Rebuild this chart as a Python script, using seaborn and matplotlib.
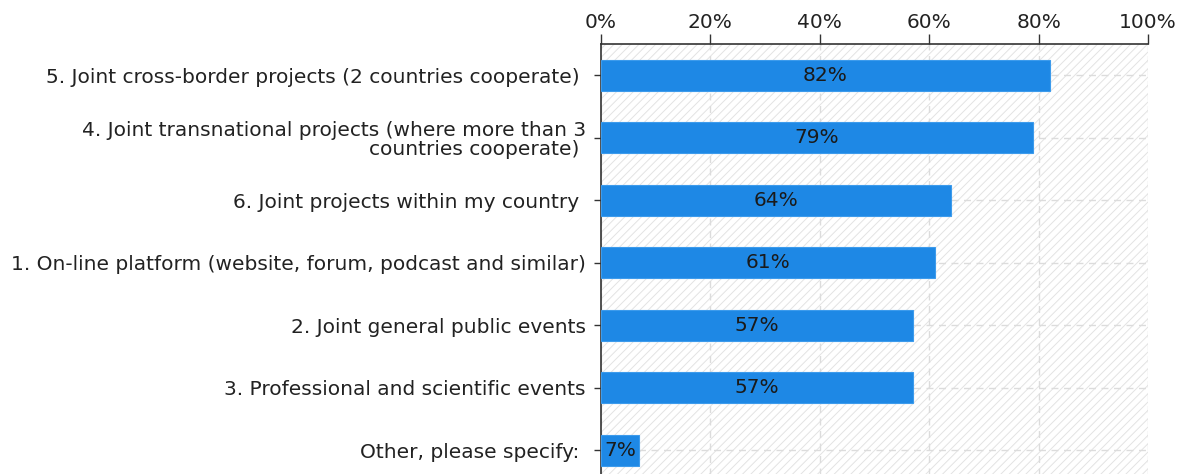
import matplotlib
matplotlib.use("Agg")
import matplotlib.pyplot as plt
import seaborn as sns
import pandas as pd
from matplotlib.patches import Rectangle

categories = [
    "5. Joint cross-border projects (2 countries cooperate) ",
    "4. Joint transnational projects (where more than 3\ncountries cooperate) ",
    "6. Joint projects within my country ",
    "1. On-line platform (website, forum, podcast and similar)",
    "2. Joint general public events",
    "3. Professional and scientific events",
    "Other, please specify: ",
]
values = [82, 79, 64, 61, 57, 57, 7]
x_ticks = [0, 20, 40, 60, 80, 100]

df = pd.DataFrame({"category": categories, "value": values})

sns.set_theme(style="white")
plt.rcParams["font.family"] = ["DejaVu Sans"]
plt.rcParams["hatch.linewidth"] = 0.7

FS = 14.5

fig = plt.figure(figsize=(11.77, 4.74), dpi=100)
ax = fig.add_axes([601 / 1177, -0.012, (1148 - 601) / 1177, (474 - 44) / 474 + 0.012])

# hatched plot-area background
ax.add_patch(Rectangle((0, 0), 1, 1, transform=ax.transAxes, facecolor="#ffffff",
                       edgecolor="#e3e3e3", linewidth=0, hatch="////", zorder=0))

sns.barplot(data=df, x="value", y="category", orient="h", color="#1e88e5",
            width=0.5, edgecolor="#3d9bec", linewidth=0.8, saturation=1,
            ax=ax, zorder=3)

for i, v in enumerate(values):
    ax.text(v / 2, i, f"{v}%", ha="center", va="center", fontsize=FS,
            color="#1a1a1a", zorder=4)

ax.set_xlim(0, 100)
ax.set_ylim(6.47, -0.5)
ax.set_xticks(x_ticks)
ax.set_xticklabels([f"{t}%" for t in x_ticks])
ax.xaxis.tick_top()
ax.set_xlabel("")
ax.set_ylabel("")

ax.grid(True, axis="both", linestyle=(0, (5, 4)), color="#dcdcdc", linewidth=1, zorder=1)
ax.set_axisbelow(True)

for side in ["right", "bottom"]:
    ax.spines[side].set_visible(False)
for side in ["top", "left"]:
    ax.spines[side].set_visible(True)
    ax.spines[side].set_color("#333333")
    ax.spines[side].set_linewidth(1.2)

ax.tick_params(axis="x", which="both", top=True, bottom=False, labeltop=True,
               labelbottom=False, direction="out", length=7, width=1,
               color="#333333", labelsize=FS, labelcolor="#222222", pad=2)
ax.tick_params(axis="y", left=True, direction="out", length=5, width=1,
               color="#333333", labelsize=FS, labelcolor="#222222", pad=6)
for lab in ax.get_yticklabels():
    lab.set_multialignment("right")
    lab.set_linespacing(1.0)

fig.savefig("out.png", dpi=100)
